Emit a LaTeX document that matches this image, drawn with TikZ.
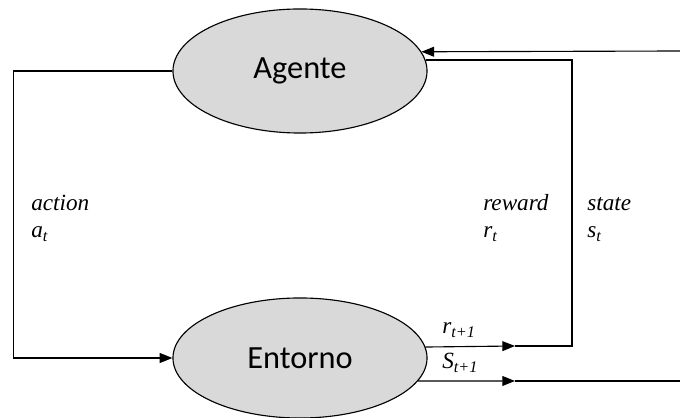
\documentclass[tikz,border=0pt]{standalone}
\usepackage{fontspec}
\setmainfont{Liberation Serif}
\newfontfamily\blobfont{Carlito}
\newfontfamily\lblfont{Liberation Serif}
\usetikzlibrary{arrows.meta,shapes.geometric}

\begin{document}
\begin{tikzpicture}[
      x=0.025cm, y=-0.025cm,
      blob/.style={ellipse, draw, line width=0.8pt, fill=gray!30, inner sep=0pt,
        minimum width=6.35cm, font=\blobfont\fontsize{23}{27}\selectfont},
      lbl/.style={anchor=base west, inner sep=0pt, align=left,
        font=\lblfont\itshape\fontsize{16.5}{19.2}\selectfont},
      wire/.style={line width=0.8pt},
      arrow/.style={wire, -{Triangle[length=9pt, width=7pt]}}
    ]
    \useasboundingbox (0,0) rectangle (680,418);
    \node[blob, minimum height=3.1cm] (agent) at (300,71) {Agente};
    \node[blob, minimum height=3.0cm] (env) at (300,358) {Entorno};
    % free ends and corners
    \coordinate (r1) at (515,346);
    \coordinate (s1) at (515,381);
    \coordinate (rx) at (572,0);
    \coordinate (sout) at (680,381);
    \coordinate (sin) at (680,51);
    % action
    \draw[arrow] (agent.west) -- ++(-159,0) |- (env.west);
    % reward
    \draw[arrow] (env.5.5) -- (r1);
    \draw[wire] (r1) -- (r1 -| rx) -- (rx |- agent.5.5) -- (agent.5.5);
    % state
    \draw[arrow] (env.-11) -- (s1);
    \draw[wire] (s1) -- (sout);
    \draw[arrow] (sin) -- (agent.9.5);
    % labels (base is the last line)
    \node[lbl] (lact) at (31,238) {action\\a\textsubscript{t}};
    \node[lbl] (lrew) at (483,238) {reward\\r\textsubscript{t}};
    \node[lbl] (lsta) at (587,238) {state\\s\textsubscript{t}};
    \node[lbl] (lr1) at (442,334) {r\textsubscript{t+1}};
    \node[lbl] (ls1) at (442,369) {S\textsubscript{t+1}};
  \end{tikzpicture}
\end{document}
